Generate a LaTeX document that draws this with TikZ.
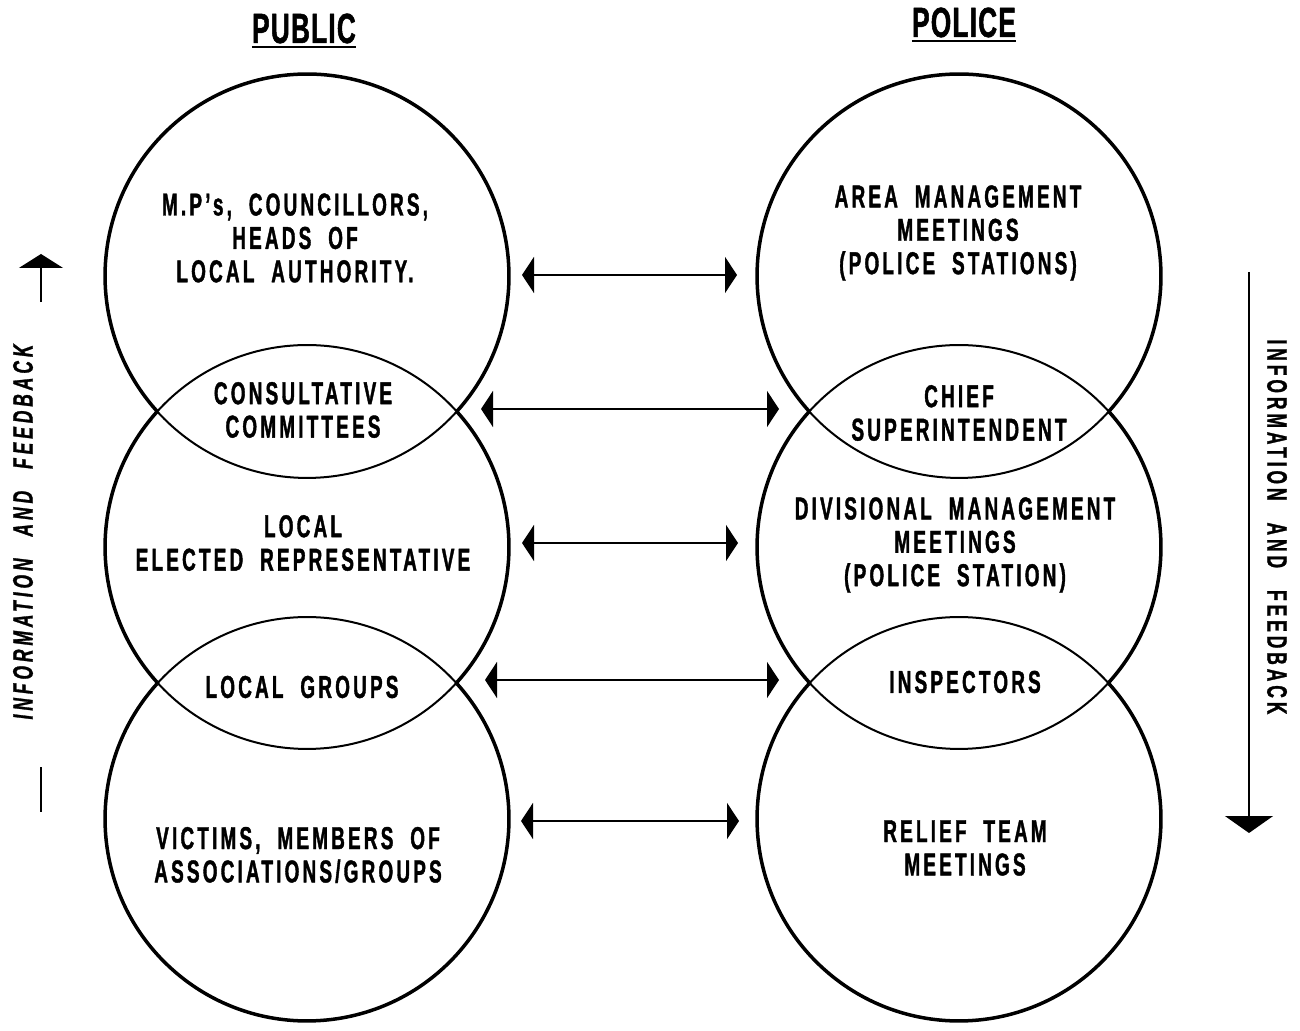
\documentclass[tikz,border=0pt]{standalone}
\usepackage{fontspec}
\newfontfamily\chartfont{Liberation Sans}[FakeStretch=0.6,LetterSpace=10,WordSpace=2,FakeBold=1.2]
\newfontfamily\headfont{Liberation Sans}[FakeStretch=0.62,LetterSpace=3,FakeBold=1.2]
\newfontfamily\sidefont{Liberation Sans}[FakeStretch=0.62,LetterSpace=14,WordSpace=2.5,FakeBold=1]
\usetikzlibrary{arrows.meta}

\tikzset{
  bubble/.style={circle,draw,line width=0.04cm,minimum size=8.08cm,inner sep=0pt,outer sep=0pt},
  rim/.style={line width=0.07cm},
  words/.style={font=\chartfont\bfseries\fontsize{18}{19}\selectfont,align=center,inner sep=0pt},
  heading/.style={font=\headfont\bfseries\fontsize{24}{28}\selectfont,inner sep=0pt},
  sidenote/.style={font=\sidefont\bfseries\fontsize{16}{18}\selectfont,inner sep=0pt},
  link/.style={<->,line width=0.04cm},
  flow/.style={line width=0.03cm}
}

\begin{document}
\begin{tikzpicture}[x=0.02cm,y=0.02cm,line join=round,>={Triangle[length=0.24cm,width=0.72cm]}]
\useasboundingbox (0,0) rectangle (1300,1030);

% headings
\node[heading,anchor=base] (pubT) at (304,987) {PUBLIC};
\node[heading,anchor=base] (polT) at (964,993) {POLICE};
\draw[line width=0.045cm] ([yshift=-0.08cm]pubT.base west) -- ([yshift=-0.08cm]pubT.base east);
\draw[line width=0.045cm] ([yshift=-0.08cm]polT.base west) -- ([yshift=-0.08cm]polT.base east);

% public side
\node[bubble] (pubA) at (307,754) {};
\node[bubble] (pubB) at (307,483) {};
\node[bubble] (pubC) at (307,211) {};
\draw[rim] (pubA.-42) arc[start angle=-42,end angle=222,radius=4.04cm];
\draw[rim] (pubB.-42) arc[start angle=-42,end angle=42,radius=4.04cm];
\draw[rim] (pubB.138) arc[start angle=138,end angle=222,radius=4.04cm];
\draw[rim] (pubC.138) arc[start angle=138,end angle=402,radius=4.04cm];

\node[words] (pubAtxt) at (295,792) {M.P’s, COUNCILLORS,\\HEADS OF\\LOCAL AUTHORITY.};
\node[words] (pubABtxt) at (303,620) {CONSULTATIVE\\COMMITTEES};
\node[words] (pubBtxt) at (303,487) {LOCAL\\ELECTED REPRESENTATIVE};
\node[words] (pubBCtxt) at (302,343) {LOCAL GROUPS};
\node[words] (pubCtxt) at (298,175) {VICTIMS, MEMBERS OF\\ASSOCIATIONS/GROUPS};

% police side
\node[bubble] (polA) at (959,754) {};
\node[bubble] (polB) at (959,483) {};
\node[bubble] (polC) at (959,211) {};
\draw[rim] (polA.-42) arc[start angle=-42,end angle=222,radius=4.04cm];
\draw[rim] (polB.-42) arc[start angle=-42,end angle=42,radius=4.04cm];
\draw[rim] (polB.138) arc[start angle=138,end angle=222,radius=4.04cm];
\draw[rim] (polC.138) arc[start angle=138,end angle=402,radius=4.04cm];

\node[words] (polAtxt) at (958,797) {AREA MANAGEMENT\\MEETINGS\\(POLICE STATIONS)};
\node[words] (polABtxt) at (959,617) {CHIEF\\SUPERINTENDENT};
\node[words] (polBtxt) at (955,485) {DIVISIONAL MANAGEMENT\\MEETINGS\\(POLICE STATION)};
\node[words] (polBCtxt) at (965,348) {INSPECTORS};
\node[words] (polCtxt) at (965,182) {RELIEF TEAM\\MEETINGS};

% links between the two sides
\coordinate (l1) at (522,755); \coordinate (r1) at (737,755);
\coordinate (l2) at (481,621); \coordinate (r2) at (779,621);
\coordinate (l3) at (522,487); \coordinate (r3) at (738,487);
\coordinate (l4) at (485,350); \coordinate (r4) at (779,350);
\coordinate (l5) at (521,209); \coordinate (r5) at (739,209);
\draw[link] (l1) -- (r1);
\draw[link] (l2) -- (r2);
\draw[link] (l3) -- (r3);
\draw[link] (l4) -- (r4);
\draw[link] (l5) -- (r5);

% information and feedback
\node[sidenote,rotate=90] (infoL) at (23,498) {\itshape INFORMATION AND FEEDBACK};
\node[sidenote,rotate=-90] (infoR) at (1277,503) {INFORMATION AND FEEDBACK};
\coordinate (upB) at (41,218); \coordinate (upT) at (41,776);
\coordinate (dnT) at (1249,758); \coordinate (dnB) at (1249,197);
\draw[flow,-{Triangle[length=0.28cm,width=0.88cm]},dash pattern=on 0.9cm off 9.3cm on 0.7cm] (upB) -- (upT);
\draw[flow,-{Triangle[length=0.34cm,width=0.96cm]}] (dnT) -- (dnB);
\end{tikzpicture}
\end{document}
